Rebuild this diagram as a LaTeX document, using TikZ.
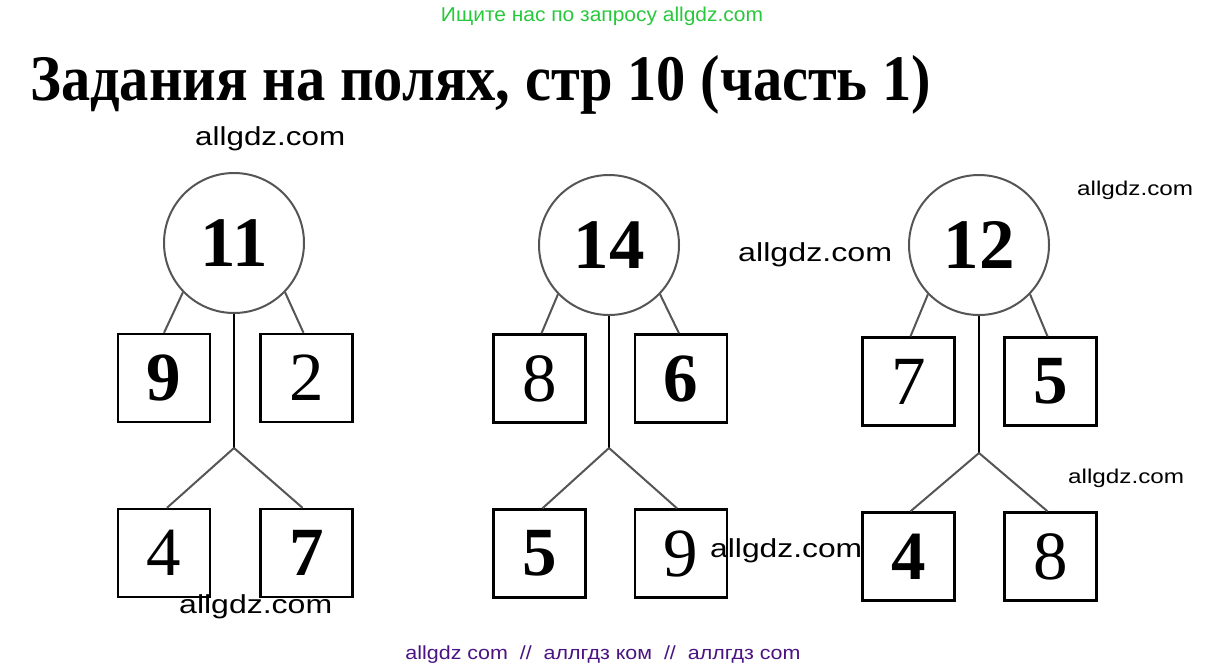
\documentclass[tikz,border=0pt]{standalone}
\usepackage{fontspec}
\usepackage{graphicx}
\setmainfont{Liberation Serif}
\newfontfamily\wmfont{Liberation Sans}
\definecolor{wmgreen}{RGB}{40,200,60}
\definecolor{wmpurple}{RGB}{75,20,130}
\definecolor{lgray}{RGB}{85,85,85}
\begin{document}
\begin{tikzpicture}[x=1pt,y=-1pt,
  circ/.style={draw=lgray,line width=2pt,circle,minimum size=140pt,inner sep=0pt,
    font=\fontsize{71}{71}\selectfont\bfseries},
  sq/.style={draw=black,line width=2.4pt,rectangle,minimum width=92pt,minimum height=88pt,inner sep=0pt,
    font=\fontsize{69}{69}\selectfont},
  sqb/.style={sq,font=\fontsize{69}{69}\selectfont\bfseries},
  diag/.style={draw=lgray,line width=2pt},
  stemline/.style={draw=black,line width=2pt},
  wmbig/.style={anchor=base west,inner sep=0pt,font=\wmfont\fontsize{26}{26}\selectfont},
  wmsmall/.style={anchor=base west,inner sep=0pt,font=\wmfont\fontsize{20}{20}\selectfont}]
\useasboundingbox[fill=white] (0,0) rectangle (1207,670);

% header texts
\node[anchor=base,inner sep=0pt,text=wmgreen] (hdr) at (602,21)
  {\resizebox{322pt}{\height}{\wmfont\fontsize{20}{20}\selectfont Ищите нас по запросу allgdz.com}};
\node[anchor=base west,inner sep=0pt] (title) at (30,100)
  {\resizebox{901pt}{\height}{\fontsize{65}{65}\selectfont\bfseries Задания на полях, стр 10 (часть 1)}};

% tree 1
\node[circ] (c1) at (234,243) {11};
\node[sqb] (a1) at (164,378) {9};
\node[sq]  (a2) at (306.5,378) {2};
\node[sq]  (a3) at (164,553) {4};
\node[sqb] (a4) at (306.5,553) {7};
\coordinate (j1) at (234,448);
\draw[diag] (c1.224) -- (a1.north);
\draw[diag] (c1.-44) -- ([xshift=-3pt]a2.north);
\draw[stemline] (c1.south) -- (j1);
\draw[diag] (j1) -- ([xshift=3pt]a3.north);
\draw[diag] (j1) -- ([xshift=-4pt]a4.north);

% tree 2
\node[circ] (c2) at (609,245) {14};
\node[sq]  (b1) at (539.5,378.5) {8};
\node[sqb] (b2) at (681,378.5) {6};
\node[sqb] (b3) at (539.5,553.5) {5};
\node[sq]  (b4) at (681,553.5) {9};
\coordinate (j2) at (609,448);
\draw[diag] (c2.224) -- ([xshift=2pt]b1.north);
\draw[diag] (c2.-44) -- ([xshift=-2pt]b2.north);
\draw[stemline] (c2.south) -- (j2);
\draw[diag] (j2) -- ([xshift=3pt]b3.north);
\draw[diag] (j2) -- ([xshift=-4pt]b4.north);

% tree 3
\node[circ] (c3) at (979,245) {12};
\node[sq]  (d1) at (908.5,381.5) {7};
\node[sqb] (d2) at (1050.5,381.5) {5};
\node[sqb] (d3) at (908.5,556.5) {4};
\node[sq]  (d4) at (1050.5,556.5) {8};
\coordinate (j3) at (979,453);
\draw[diag] (c3.224) -- ([xshift=2pt]d1.north);
\draw[diag] (c3.-44) -- ([xshift=-3pt]d2.north);
\draw[stemline] (c3.south) -- (j3);
\draw[diag] (j3) -- ([xshift=2pt]d3.north);
\draw[diag] (j3) -- ([xshift=-3pt]d4.north);

% watermarks
\node[wmbig] (w1) at (195,145) {\resizebox{150pt}{\height}{allgdz.com}};
\node[wmsmall] (w2) at (1077,195) {\resizebox{116pt}{\height}{allgdz.com}};
\node[wmbig] (w3) at (738,261) {\resizebox{154pt}{\height}{allgdz.com}};
\node[wmsmall] (w4) at (1068,483) {\resizebox{116pt}{\height}{allgdz.com}};
\node[wmbig] (w5) at (710,557) {\resizebox{152pt}{\height}{allgdz.com}};
\node[wmbig] (w6) at (179,613) {\resizebox{153pt}{\height}{allgdz.com}};

% footer
\node[anchor=base,inner sep=0pt,text=wmpurple] (ftr) at (603,659)
  {\resizebox{395pt}{\height}{\wmfont\fontsize{19}{19}\selectfont allgdz com~~//~~аллгдз ком~~//~~аллгдз com}};
\end{tikzpicture}
\end{document}
